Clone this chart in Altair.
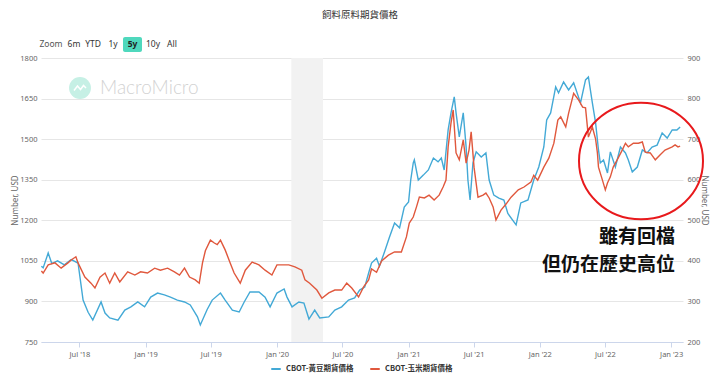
import altair as alt
import pandas as pd

SOY = "CBOT-黃豆期貨價格"
CORN = "CBOT-玉米期貨價格"
BLUE = "#43a9d6"
RED = "#e0583d"

soy_dates = [
    "2018-03-17", "2018-03-22", "2018-04-05", "2018-04-15", "2018-05-01", "2018-05-20",
    "2018-06-08", "2018-06-27", "2018-07-11", "2018-07-25", "2018-08-07", "2018-08-30",
    "2018-09-10", "2018-09-23", "2018-10-16", "2018-11-04", "2018-11-21", "2018-12-10",
    "2018-12-29", "2019-01-15", "2019-02-03", "2019-02-22", "2019-03-11", "2019-03-30",
    "2019-04-19", "2019-05-05", "2019-05-25", "2019-06-02", "2019-06-21", "2019-07-05",
    "2019-07-28", "2019-08-10", "2019-08-30", "2019-09-18", "2019-10-02", "2019-10-18",
    "2019-11-12", "2019-11-29", "2019-12-13", "2020-01-01", "2020-01-21", "2020-01-29",
    "2020-02-12", "2020-03-02", "2020-03-16", "2020-03-30", "2020-04-15", "2020-04-29",
    "2020-05-24", "2020-06-10", "2020-06-29", "2020-07-18", "2020-08-04", "2020-08-18",
    "2020-09-01", "2020-09-12", "2020-09-20", "2020-10-04", "2020-10-12", "2020-10-26",
    "2020-11-09", "2020-11-23", "2020-12-07", "2020-12-20", "2021-01-01", "2021-01-07",
    "2021-01-14", "2021-01-17", "2021-01-28", "2021-02-11", "2021-02-25", "2021-03-11",
    "2021-03-24", "2021-04-02", "2021-04-10", "2021-04-21", "2021-04-29", "2021-05-08",
    "2021-05-13", "2021-05-22", "2021-06-02", "2021-06-10", "2021-06-15", "2021-06-21",
    "2021-06-29", "2021-07-08", "2021-07-22", "2021-08-04", "2021-08-13", "2021-08-26",
    "2021-09-09", "2021-09-23", "2021-10-04", "2021-10-27", "2021-11-09", "2021-11-29",
    "2021-12-15", "2021-12-29", "2022-01-12", "2022-01-20", "2022-01-31", "2022-02-14",
    "2022-02-22", "2022-03-08", "2022-03-22", "2022-04-05", "2022-04-24", "2022-05-08",
    "2022-05-16", "2022-05-27", "2022-06-05", "2022-06-13", "2022-06-18", "2022-06-27",
    "2022-07-08", "2022-07-16", "2022-07-30", "2022-08-13", "2022-08-27", "2022-09-04",
    "2022-09-15", "2022-09-29", "2022-10-13", "2022-10-26", "2022-11-09", "2022-11-23",
    "2022-12-07", "2022-12-21", "2023-01-04", "2023-01-17", "2023-01-26",
]
soy_values = [
    1030, 1024, 1079, 1040, 1050, 1035,
    1055, 1042, 905, 860, 831, 898,
    857, 839, 831, 868, 880, 898,
    880, 916, 931, 924, 916, 905,
    898, 887, 843, 813, 870, 905,
    931, 905, 868, 861, 898, 935,
    935, 916, 880, 931, 946, 916,
    880, 898, 894, 835, 868, 839,
    843, 868, 880, 905, 913, 942,
    953, 1005, 1042, 1060, 1030, 1083,
    1138, 1190, 1172, 1249, 1268, 1349,
    1412, 1423, 1349, 1367, 1386, 1430,
    1416, 1430, 1386, 1534, 1597, 1656,
    1597, 1508, 1597, 1471, 1349, 1275,
    1412, 1453, 1434, 1449, 1349, 1293,
    1282, 1275, 1225, 1183, 1264, 1275,
    1349, 1397, 1471, 1571, 1597, 1693,
    1671, 1711, 1682, 1708, 1634, 1719,
    1730, 1634, 1560, 1460, 1412, 1423,
    1375, 1453, 1397, 1471, 1449, 1423,
    1379, 1397, 1460, 1449, 1471, 1478,
    1523, 1504, 1534, 1534, 1545,
]

corn_dates = [
    "2018-03-17", "2018-03-22", "2018-04-05", "2018-04-24", "2018-05-11", "2018-05-30",
    "2018-06-08", "2018-06-21", "2018-06-27", "2018-07-16", "2018-08-02", "2018-08-13",
    "2018-08-27", "2018-09-10", "2018-09-23", "2018-10-07", "2018-10-21", "2018-11-12",
    "2018-12-02", "2018-12-18", "2019-01-06", "2019-01-26", "2019-02-11", "2019-03-03",
    "2019-03-22", "2019-04-05", "2019-04-19", "2019-05-03", "2019-05-19", "2019-05-30",
    "2019-06-08", "2019-06-16", "2019-06-30", "2019-07-11", "2019-07-19", "2019-07-28",
    "2019-08-10", "2019-08-24", "2019-09-04", "2019-09-21", "2019-10-05", "2019-10-24",
    "2019-11-12", "2019-11-29", "2019-12-18", "2020-01-01", "2020-01-21", "2020-02-03",
    "2020-02-20", "2020-03-10", "2020-03-19", "2020-04-01", "2020-04-21", "2020-05-05",
    "2020-05-24", "2020-06-10", "2020-06-29", "2020-07-13", "2020-07-27", "2020-08-15",
    "2020-08-29", "2020-09-12", "2020-09-20", "2020-10-04", "2020-10-18", "2020-11-06",
    "2020-11-23", "2020-12-12", "2020-12-26", "2021-01-03", "2021-01-14", "2021-01-23",
    "2021-01-31", "2021-02-14", "2021-02-27", "2021-03-13", "2021-03-27", "2021-04-07",
    "2021-04-15", "2021-04-21", "2021-04-29", "2021-05-05", "2021-05-13", "2021-05-22",
    "2021-06-02", "2021-06-10", "2021-06-18", "2021-06-24", "2021-07-02", "2021-07-13",
    "2021-07-27", "2021-08-04", "2021-08-13", "2021-08-24", "2021-09-01", "2021-09-15",
    "2021-09-29", "2021-10-13", "2021-11-02", "2021-11-18", "2021-12-07", "2021-12-15",
    "2021-12-26", "2022-01-12", "2022-01-26", "2022-02-09", "2022-02-20", "2022-02-28",
    "2022-03-14", "2022-03-22", "2022-04-05", "2022-04-19", "2022-04-30", "2022-05-08",
    "2022-05-16", "2022-05-27", "2022-06-05", "2022-06-10", "2022-06-13", "2022-06-24",
    "2022-07-02", "2022-07-08", "2022-07-16", "2022-07-24", "2022-08-04", "2022-08-18",
    "2022-08-27", "2022-09-04", "2022-09-18", "2022-10-02", "2022-10-13", "2022-10-21",
    "2022-11-04", "2022-11-18", "2022-12-01", "2022-12-15", "2023-01-04", "2023-01-12",
    "2023-01-20", "2023-01-26",
]
corn_values = [
    375, 370, 390, 395, 382, 395,
    402, 410, 395, 360, 345, 333,
    360, 370, 345, 370, 348, 373,
    365, 373, 370, 382, 377, 382,
    373, 365, 382, 360, 353, 345,
    395, 425, 451, 444, 440, 451,
    427, 395, 370, 345, 377, 397,
    390, 377, 365, 390, 390, 390,
    385, 377, 353, 345, 328, 308,
    321, 328, 328, 345, 333, 311,
    336, 353, 380, 372, 400, 414,
    422, 422, 459, 493, 508, 533,
    557, 555, 562, 550, 562, 582,
    599, 681, 740, 772, 666, 649,
    698, 641, 673, 718, 631, 557,
    562, 567, 555, 533, 501, 525,
    540, 557, 575, 582, 594, 611,
    599, 631, 653, 690, 747, 755,
    730, 764, 813, 796, 779, 777,
    705, 730, 700, 666, 631, 599,
    575, 592, 607, 631, 649, 673,
    690, 681, 690, 690, 693, 668,
    666, 649, 661, 673, 681, 686,
    681, 683,
]

recession_start = ["2020-02-10"]
recession_end = ["2020-05-08"]

left_ticks = [750, 900, 1050, 1200, 1350, 1500, 1650, 1800]
right_ticks = [200, 300, 400, 500, 600, 700, 800, 900]
x_tick_dates = [(2018, 7), (2019, 1), (2019, 7), (2020, 1), (2020, 7),
                (2021, 1), (2021, 7), (2022, 1), (2022, 7), (2023, 1)]

W, H = 642, 284
FONT = "Noto Sans"
CJK = "Noto Sans CJK TC"

soy_df = pd.DataFrame({"date": soy_dates, "value": soy_values, "series": SOY})
corn_df = pd.DataFrame({"date": corn_dates, "value": corn_values, "series": CORN})
band_df = pd.DataFrame({"start": recession_start, "end": recession_end})
one = pd.DataFrame({"a": [0]})

x_scale = alt.Scale(domain=[alt.DateTime(year=2018, month=3, date=16, utc=True),
                            alt.DateTime(year=2023, month=2, date=3, utc=True)])
x_axis = alt.Axis(
    values=[alt.DateTime(year=y, month=m, date=1, utc=True) for y, m in x_tick_dates],
    labelExpr="utcFormat(datum.value, '%b') + \" '\" + utcFormat(datum.value, '%y')",
    title=None, grid=False, domainColor="#ccd6eb", tickColor="#ccd6eb", tickSize=5,
    labelColor="#666666", labelFontSize=7.5, labelFont=FONT, labelPadding=3,
)
color_scale = alt.Scale(domain=[SOY, CORN], range=[BLUE, RED])
legend = alt.Legend(
    orient="none", legendX=229, legendY=305, direction="horizontal", title=None,
    symbolType="stroke", symbolStrokeWidth=2, symbolSize=90, labelFont=CJK,
    labelFontSize=7.5, labelFontWeight="bold", labelColor="#333333", columnPadding=12,
    symbolOffset=0, labelOffset=4,
)

band = alt.Chart(band_df).mark_rect(color="#f2f2f2").encode(
    x=alt.X("start:T", scale=x_scale, axis=x_axis), x2="end:T",
    y=alt.value(0), y2=alt.value(H),
)

soy = alt.Chart(soy_df).mark_line(strokeWidth=1.4).encode(
    x=alt.X("date:T", scale=x_scale, axis=x_axis),
    y=alt.Y("value:Q", scale=alt.Scale(domain=[750, 1800], nice=False, zero=False),
            axis=alt.Axis(orient="left", values=left_ticks, format="d", title="Number, USD",
                          domain=False, ticks=False, gridColor="#e6e6e6",
                          labelColor="#666666", labelFontSize=7.5, labelFont=FONT,
                          labelPadding=4, titleColor="#666666", titleFontSize=8,
                          titleFontWeight="normal", titleFont=FONT, titlePadding=0)),
    color=alt.Color("series:N", scale=color_scale, legend=legend),
)

corn = alt.Chart(corn_df).mark_line(strokeWidth=1.4).encode(
    x=alt.X("date:T", scale=x_scale, axis=x_axis),
    y=alt.Y("value:Q", scale=alt.Scale(domain=[200, 900], nice=False, zero=False),
            axis=alt.Axis(orient="right", values=right_ticks, format="d", title="Number, USD",
                          domain=False, ticks=False, grid=False,
                          labelColor="#666666", labelFontSize=7.5, labelFont=FONT,
                          labelPadding=4, titleColor="#666666", titleFontSize=8,
                          titleFontWeight="normal", titleFont=FONT, titlePadding=0)),
    color=alt.Color("series:N", scale=color_scale, legend=legend),
)

def label(text, x, y, **kw):
    return alt.Chart(one).mark_text(text=text, **kw).encode(x=alt.value(x), y=alt.value(y))

title = label("飼料原料期貨價格", 319, -43, font=CJK, fontSize=9.5, color="#333333")

btn_box = alt.Chart(one).mark_rect(color="#4fd8bd", cornerRadius=2).encode(
    x=alt.value(82), x2=alt.value(101), y=alt.value(-21), y2=alt.value(-6))
buttons = [
    label("Zoom", 10, -14, font=FONT, fontSize=8.5, color="#555555"),
    label("6m", 33, -14, font=FONT, fontSize=8.5, color="#333333"),
    label("YTD", 52, -14, font=FONT, fontSize=8.5, color="#333333"),
    label("1y", 72, -14, font=FONT, fontSize=8.5, color="#333333"),
    label("5y", 91.5, -14, font=FONT, fontSize=8.5, color="#222222", fontWeight="bold"),
    label("10y", 112, -14, font=FONT, fontSize=8.5, color="#333333"),
    label("All", 131, -14, font=FONT, fontSize=8.5, color="#333333"),
]

logo = alt.Chart(one).mark_point(shape="circle", filled=True, size=480, color="#c6f0e5",
                                 opacity=1).encode(x=alt.value(39), y=alt.value(30))
logo_icon = alt.Chart(one).mark_point(
    shape="M-0.6,0.25L-0.25,-0.2L0.05,0.15L0.35,-0.25L0.6,0", filled=False,
    size=400, color="white", strokeWidth=1.5, opacity=1,
).encode(x=alt.value(39), y=alt.value(30))
watermark = label("MacroMicro", 59, 30, align="left", font="Lato", fontWeight=300,
                  fontSize=19, color="#d2d2d2")

ellipse = alt.Chart(one).mark_point(
    shape="M-1,0A1,0.94,0,1,0,1,0A1,0.94,0,1,0,-1,0Z", filled=False,
    size=15376, color="#e8191c", strokeWidth=2, opacity=1,
).encode(x=alt.value(600), y=alt.value(103))

note1 = label("雖有回檔", 634, 179, align="right", font=CJK, fontWeight="bold",
              fontSize=19, color="#111111")
note2 = label("但仍在歷史高位", 634, 207, align="right", font=CJK, fontWeight="bold",
              fontSize=19, color="#111111")

chart = alt.layer(
    band, soy, corn, title, btn_box, *buttons, logo, logo_icon, watermark,
    ellipse, note1, note2,
).resolve_scale(y="independent").properties(
    width=W, height=H, autosize=alt.AutoSizeParams(type="none"),
    padding={"left": 33, "top": 50, "right": 29, "bottom": 34},
).configure_view(stroke=None)

chart.save("out.html", embed_options={"renderer": "svg", "actions": False})
